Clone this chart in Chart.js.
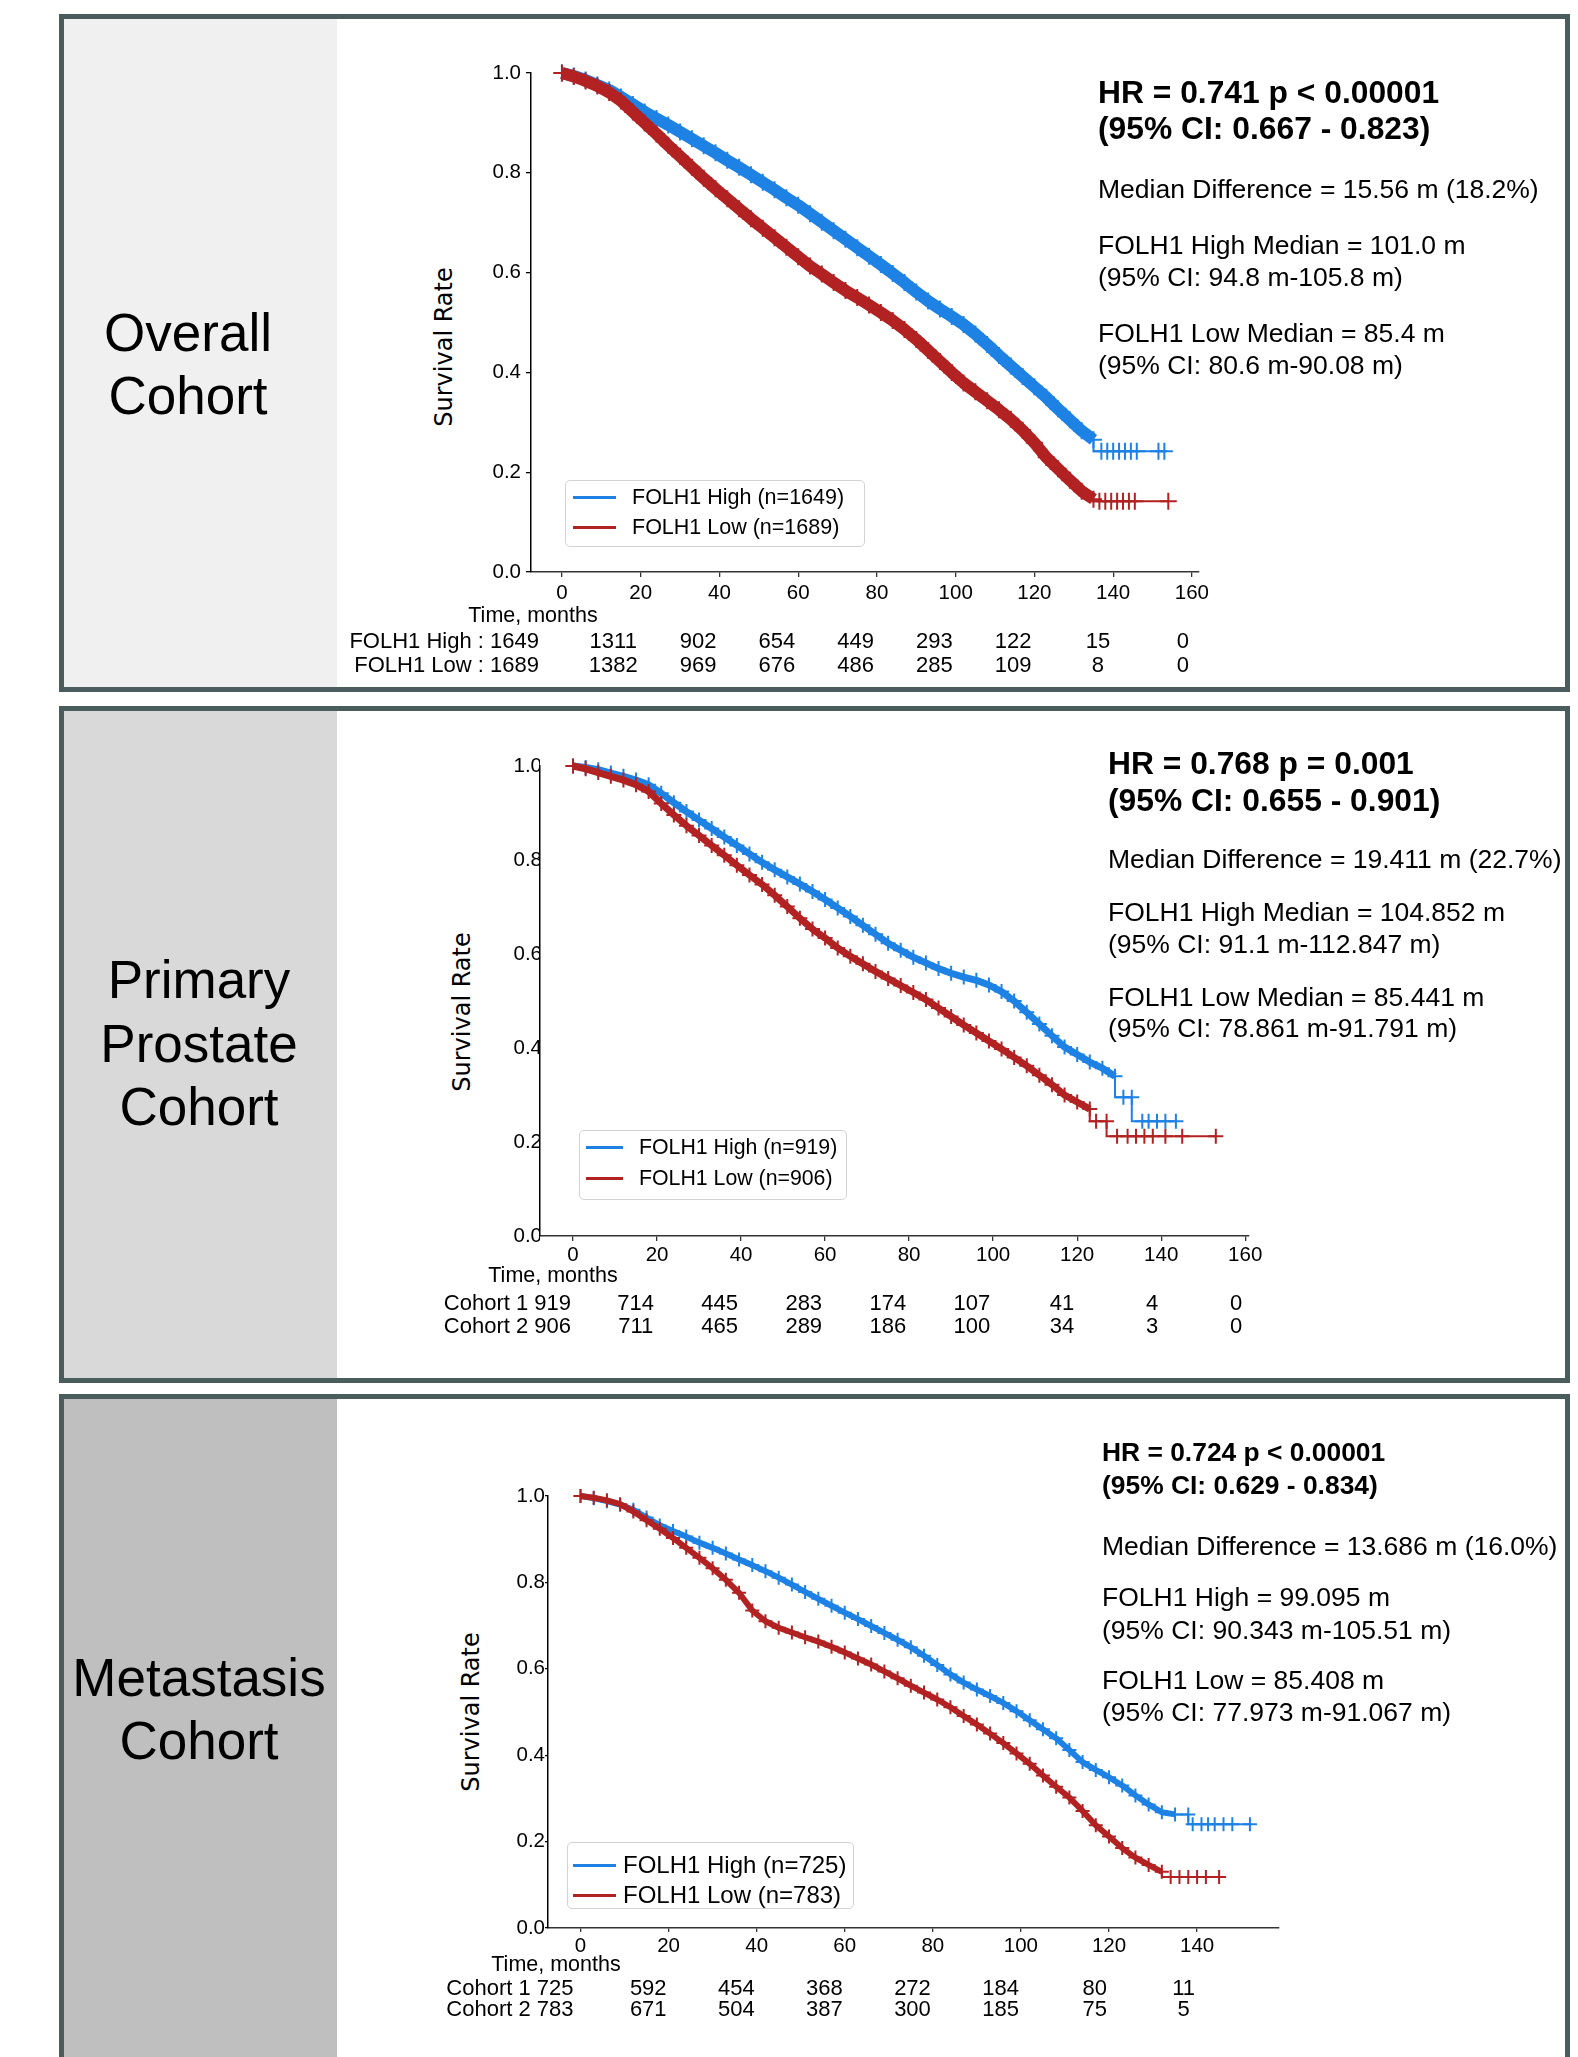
<!DOCTYPE html>
<html>
<head>
<meta charset="utf-8">
<title>FOLH1 survival by cohort</title>
<script src="https://cdn.jsdelivr.net/npm/chart.js@4.4.1/dist/chart.umd.min.js"></script>
<style>
  html, body { margin: 0; padding: 0; background: #fff; }
  body { position: relative; width: 1578px; height: 2057px; overflow: hidden; font-family: "Liberation Sans", Arial, Helvetica, sans-serif; color: #000; }
  .panel { position: absolute; left: 59px; width: 1511px; box-sizing: border-box; border: 5px solid #4a5c5c; background: #fff; }
  .side { position: absolute; left: 0; top: 0; bottom: 0; width: 273px; }
  .txt { position: absolute; white-space: nowrap; }
  .legend { position: absolute; box-sizing: border-box; border: 1.5px solid #d3d3d3; border-radius: 5px; background: rgba(255, 255, 255, .85); }
  .swatch { position: absolute; height: 3px; }
  canvas { position: absolute; }
</style>
</head>
<body>
<div class="panel" style="top:14px;height:678px"><div class="side" style="background:#f0f0f0"></div></div>
<div class="panel" style="top:706px;height:677px"><div class="side" style="background:#d9d9d9"></div></div>
<div class="panel" style="top:1394px;height:720px"><div class="side" style="background:#bfbfbf"></div></div>
<script>
const BLUE = '#1e82e4';
const RED = '#b22222';
const PAGE_W = 1578;

const yTicks = [0, 0.2, 0.4, 0.6, 0.8, 1.0];
const xTicksLong = [0, 20, 40, 60, 80, 100, 120, 140, 160];
const xTicksShort = [0, 20, 40, 60, 80, 100, 120, 140];

// Overall cohort (months, survival)
const overallHighT = [0, 3, 6, 9, 12, 15, 18, 21, 24, 27, 30, 33, 36, 39, 42, 45, 48, 51, 54, 57, 60, 63, 66, 69, 72, 75, 78, 81, 84, 87, 90, 93, 96, 99, 102, 105, 108, 111, 114, 117, 120, 123, 126, 129, 132, 135, 137, 138.5, 140, 141.5, 143, 144.5, 146, 151.5, 153];
const overallHighS = [1.000, .994, .986, .976, .966, .952, .937, .922, .909, .896, .882, .868, .854, .840, .825, .811, .796, .781, .766, .750, .735, .718, .701, .684, .667, .650, .633, .616, .598, .580, .561, .543, .527, .512, .496, .477, .456, .434, .413, .392, .371, .350, .327, .305, .283, .265, .242, .242, .242, .242, .242, .242, .242, .242, .242];
const overallLowT = [0, 3, 6, 9, 12, 15, 18, 21, 24, 27, 30, 33, 36, 39, 42, 45, 48, 51, 54, 57, 60, 63, 66, 69, 72, 75, 78, 81, 84, 87, 90, 93, 96, 99, 102, 105, 108, 111, 114, 117, 120, 123, 126, 129, 132, 135, 136.5, 138, 139.5, 141, 142.5, 144, 145.5, 154];
const overallLowS = [1.000, .993, .984, .974, .961, .944, .922, .900, .878, .855, .833, .811, .789, .768, .748, .728, .708, .689, .670, .651, .632, .613, .597, .580, .564, .550, .535, .520, .504, .486, .466, .444, .422, .400, .379, .361, .343, .325, .306, .284, .259, .230, .207, .184, .162, .146, .142, .142, .142, .142, .142, .142, .142, .142];
const overallRiskHigh = [1649, 1311, 902, 654, 449, 293, 122, 15, 0];
const overallRiskLow = [1689, 1382, 969, 676, 486, 285, 109, 8, 0];

// Primary prostate cohort
const primaryHighT = [0, 3, 6, 9, 12, 15, 18, 21, 24, 27, 30, 33, 36, 39, 42, 45, 48, 51, 54, 57, 60, 63, 66, 69, 72, 75, 78, 81, 84, 87, 90, 93, 96, 99, 102, 105, 108, 111, 114, 117, 120, 123, 126, 129, 131, 133, 135.5, 137, 139, 141, 143.5];
const primaryHighS = [1.000, .997, .992, .985, .978, .970, .960, .942, .922, .903, .885, .867, .849, .831, .813, .795, .779, .764, .749, .733, .716, .698, .680, .661, .642, .623, .608, .593, .581, .569, .559, .551, .544, .534, .520, .500, .476, .451, .426, .402, .386, .370, .357, .340, .295, .295, .244, .244, .244, .244, .244];
const primaryLowT = [0, 3, 6, 9, 12, 15, 18, 21, 24, 27, 30, 33, 36, 39, 42, 45, 48, 51, 54, 57, 60, 63, 66, 69, 72, 75, 78, 81, 84, 87, 90, 93, 96, 99, 102, 105, 108, 111, 114, 117, 120, 123, 124.5, 127, 129.5, 132, 134, 136, 138, 141, 145, 153];
const primaryLowS = [1.000, .994, .986, .978, .970, .960, .946, .920, .896, .873, .852, .831, .810, .789, .768, .748, .725, .701, .676, .653, .634, .613, .595, .579, .563, .548, .533, .518, .503, .485, .467, .449, .432, .415, .398, .380, .362, .342, .322, .300, .285, .270, .244, .244, .212, .212, .212, .212, .212, .212, .212, .212];
const primaryRiskHigh = [919, 714, 445, 283, 174, 107, 41, 4, 0];
const primaryRiskLow = [906, 711, 465, 289, 186, 100, 34, 3, 0];

// Metastasis cohort
const metaHighT = [0, 3, 6, 9, 12, 15, 18, 21, 24, 27, 30, 33, 36, 39, 42, 45, 48, 51, 54, 57, 60, 63, 66, 69, 72, 75, 78, 81, 84, 87, 90, 93, 96, 99, 102, 105, 108, 111, 114, 117, 120, 123, 126, 129, 132, 135, 138, 139, 141, 142.5, 144, 146, 148, 152];
const metaHighS = [1.000, .995, .988, .980, .968, .950, .932, .919, .906, .892, .880, .867, .853, .840, .826, .811, .795, .778, .762, .746, .730, .715, .699, .683, .667, .650, .630, .609, .587, .568, .552, .537, .521, .502, .481, .460, .439, .412, .384, .366, .349, .330, .307, .286, .268, .263, .263, .240, .240, .240, .240, .240, .240, .240];
const metaLowT = [0, 3, 6, 9, 12, 15, 18, 21, 24, 27, 30, 33, 36, 39, 42, 45, 48, 51, 54, 57, 60, 63, 66, 69, 72, 75, 78, 81, 84, 87, 90, 93, 96, 99, 102, 105, 108, 111, 114, 117, 120, 123, 126, 129, 132, 134, 136, 138, 140, 142, 145];
const metaLowS = [1.000, .996, .990, .981, .964, .944, .924, .903, .880, .857, .833, .806, .776, .735, .710, .695, .684, .673, .663, .651, .638, .624, .610, .594, .578, .561, .545, .529, .511, .491, .471, .450, .428, .404, .380, .353, .327, .302, .271, .238, .212, .185, .163, .146, .130, .118, .118, .118, .118, .118, .118];
const metaRiskHigh = [725, 592, 454, 368, 272, 184, 80, 11];
const metaRiskLow = [783, 671, 504, 387, 300, 185, 75, 5];

const panels = [
    {
        title: ['Overall', 'Cohort'],
        legend: ['FOLH1 High (n=1649)', 'FOLH1 Low (n=1689)'],
        riskLabels: ['FOLH1 High : ', 'FOLH1 Low : '],
        stats: ['HR = 0.741 p < 0.00001', '(95% CI: 0.667 - 0.823)', 'Median Difference = 15.56 m (18.2%)', 'FOLH1 High Median = 101.0 m', '(95% CI: 94.8 m-105.8 m)', 'FOLH1 Low Median = 85.4 m', '(95% CI: 80.6 m-90.08 m)'],
        high: [overallHighT, overallHighS], low: [overallLowT, overallLowS],
        risk: [overallRiskHigh, overallRiskLow], xTicks: xTicksLong,
        layout: {
            titleX: 188, titleY: [333, 396],
            axis: { left: 531, top: 73, bottom: 572, right: 1199, xMin: -7.86, xMax: 161.8 },
            yTick: [5, 5], xTick: [5, 4], mark: 8.5, band: 12, bandEnd: [135, 135],
            ylabel: [444, 347], xlabel: [533, 615],
            riskRows: [641, 665], riskOff0: -23, riskOff: -3,
            legendBox: [565, 480, 300, 67], legendLine: [573, 616], legendRows: [497, 527.5], legendText: 632, legendSize: 21.5,
            statsX: 1098, statsRows: [92, 128.5, 189, 245, 277, 333, 365], boldSize: 31.8, textSize: 26.5
        }
    },
    {
        title: ['Primary', 'Prostate', 'Cohort'],
        legend: ['FOLH1 High (n=919)', 'FOLH1 Low (n=906)'],
        riskLabels: ['Cohort 1 ', 'Cohort 2 '],
        stats: ['HR = 0.768 p = 0.001', '(95% CI: 0.655 - 0.901)', 'Median Difference = 19.411 m (22.7%)', 'FOLH1 High Median = 104.852 m', '(95% CI: 91.1 m-112.847 m)', 'FOLH1 Low Median = 85.441 m', '(95% CI: 78.861 m-91.791 m)'],
        high: [primaryHighT, primaryHighS], low: [primaryLowT, primaryLowS],
        risk: [primaryRiskHigh, primaryRiskLow], xTicks: xTicksLong,
        layout: {
            titleX: 199, titleY: [980, 1044, 1107],
            axis: { left: 540, top: 766, bottom: 1236, right: 1249, xMin: -7.86, xMax: 160.9 },
            yTick: [0, -2], xTick: [5, 2], mark: 7.5, band: 7, bandEnd: [123, 129],
            ylabel: [462, 1012], xlabel: [553, 1275],
            riskRows: [1302.5, 1326], riskOff0: -2, riskOff: -3,
            legendBox: [579, 1130, 268, 70], legendLine: [586, 623], legendRows: [1147.3, 1178.7], legendText: 639, legendSize: 21.3,
            statsX: 1108, statsRows: [763.5, 800, 859, 912, 944, 997, 1028], boldSize: 31.8, textSize: 26.5
        }
    },
    {
        title: ['Metastasis', 'Cohort'],
        legend: ['FOLH1 High (n=725)', 'FOLH1 Low (n=783)'],
        riskLabels: ['Cohort 1 ', 'Cohort 2 '],
        stats: ['HR = 0.724 p < 0.00001', '(95% CI: 0.629 - 0.834)', 'Median Difference = 13.686 m (16.0%)', 'FOLH1 High = 99.095 m', '(95% CI: 90.343 m-105.51 m)', 'FOLH1 Low = 85.408 m', '(95% CI: 77.973 m-91.067 m)'],
        high: [metaHighT, metaHighS], low: [metaLowT, metaLowS],
        risk: [metaRiskHigh, metaRiskLow], xTicks: xTicksShort,
        layout: {
            titleX: 199, titleY: [1678, 1741],
            axis: { left: 548, top: 1496, bottom: 1928, right: 1279, xMin: -7.38, xMax: 158.6 },
            yTick: [3, 0], xTick: [4, 2.5], mark: 7, band: 6, bandEnd: [132, 135],
            ylabel: [471, 1712], xlabel: [556, 1964],
            riskRows: [1988.6, 2009.5], riskOff0: -7, riskOff: -2,
            legendBox: [567, 1842, 287, 67], legendLine: [573, 616], legendRows: [1865, 1895], legendText: 623, legendSize: 24,
            statsX: 1102, statsRows: [1452, 1485, 1546.6, 1597.7, 1630.5, 1680, 1711.8], boldSize: 26.4, textSize: 26.5
        }
    }
];

const put = (text, x, cy, size, opts = {}) => {
    const el = document.createElement('div');
    el.className = 'txt';
    el.textContent = text;
    el.style.fontSize = size + 'px';
    el.style.lineHeight = (size * 1.15) + 'px';
    el.style.top = (cy - size * 0.575) + 'px';
    if (opts.bold) {
        el.style.fontWeight = 'bold';
    }
    if (opts.align === 'center') {
        el.style.left = x + 'px';
        el.style.transform = 'translateX(-50%)';
    } else if (opts.align === 'right') {
        el.style.right = (PAGE_W - x) + 'px';
    } else {
        el.style.left = x + 'px';
    }
    document.body.appendChild(el);
    return el;
};

const tickFont = { family: '"Liberation Sans", Arial, sans-serif', size: 20.5 };
const PAD_L = 90, PAD_T = 30, PAD_R = 40, PAD_B = 50;
const CLEAR = 'rgba(0,0,0,0)';

const points = (pair) => pair[0].map((t, i) => ({ x: t, y: pair[1][i] }));

// KM step line with censor crosses; the thin step line only shows in the sparse tail
const curve = (pair, color, L, end) => ({
    data: points(pair),
    borderColor: color,
    backgroundColor: color,
    borderWidth: 2,
    stepped: 'after',
    clip: false,
    segment: {
        borderColor: (ctx) => (ctx.p1.parsed.x <= end ? CLEAR : color)
    },
    pointStyle: 'cross',
    pointRadius: L.mark,
    pointHoverRadius: L.mark,
    pointBorderWidth: 2,
    pointBorderColor: color
});

// where censoring is dense the crosses merge into a ribbon
const ribbon = (pair, color, L, end) => ({
    data: points(pair),
    borderColor: color,
    borderWidth: L.band,
    borderJoinStyle: 'round',
    clip: false,
    pointRadius: 0,
    pointHoverRadius: 0,
    segment: {
        borderColor: (ctx) => (ctx.p1.parsed.x <= end ? color : CLEAR)
    }
});

panels.forEach((p) => {
    const L = p.layout;
    const a = L.axis;

    // left column title
    p.title.forEach((line, i) => put(line, L.titleX, L.titleY[i], 53, { align: 'center' }));

    // y axis title
    const yl = document.createElement('div');
    yl.className = 'txt';
    yl.textContent = 'Survival Rate';
    yl.style.cssText += `left:${L.ylabel[0]}px;top:${L.ylabel[1]}px;font-family:"DejaVu Sans",sans-serif;font-size:24px;line-height:24px;transform:translate(-50%,-50%) rotate(-90deg);`;
    document.body.appendChild(yl);

    // chart canvas
    const canvas = document.createElement('canvas');
    const w = a.right - a.left + PAD_L + PAD_R;
    const h = a.bottom - a.top + PAD_T + PAD_B;
    const cLeft = a.left - PAD_L;
    const cTop = a.top - PAD_T;
    canvas.width = w;
    canvas.height = h;
    canvas.style.left = cLeft + 'px';
    canvas.style.top = cTop + 'px';
    canvas.style.width = w + 'px';
    canvas.style.height = h + 'px';
    document.body.appendChild(canvas);

    const chart = new Chart(canvas, {
        type: 'line',
        data: {
            datasets: [
                curve(p.low, RED, L, L.bandEnd[0]),
                ribbon(p.low, RED, L, L.bandEnd[0]),
                curve(p.high, BLUE, L, L.bandEnd[1]),
                ribbon(p.high, BLUE, L, L.bandEnd[1])
            ]
        },
        options: {
            responsive: false,
            devicePixelRatio: 1,
            animation: false,
            events: [],
            layout: { autoPadding: false, padding: { left: 0, top: PAD_T, right: PAD_R, bottom: 0 } },
            plugins: { legend: { display: false }, tooltip: { enabled: false } },
            scales: {
                x: {
                    type: 'linear',
                    min: a.xMin,
                    max: a.xMax,
                    afterBuildTicks: (s) => { s.ticks = p.xTicks.map((v) => ({ value: v })); },
                    afterFit: (s) => { s.height = PAD_B; },
                    grid: { drawOnChartArea: false, drawTicks: true, tickLength: L.xTick[0], color: '#333', lineWidth: 1.3 },
                    border: { color: '#333', width: 1.5 },
                    ticks: { padding: L.xTick[1], color: '#000', font: tickFont, autoSkip: false, maxRotation: 0 }
                },
                y: {
                    type: 'linear',
                    min: 0,
                    max: 1,
                    afterBuildTicks: (s) => { s.ticks = yTicks.map((v) => ({ value: v })); },
                    afterFit: (s) => { s.width = PAD_L; },
                    grid: { drawOnChartArea: false, drawTicks: L.yTick[0] > 0, tickLength: L.yTick[0], color: '#000', lineWidth: 1.3 },
                    border: { color: '#000', width: 1.5 },
                    ticks: { padding: L.yTick[1], color: '#000', font: tickFont, callback: (v) => v.toFixed(1) }
                }
            }
        }
    });

    // legend inside the plot
    const box = document.createElement('div');
    box.className = 'legend';
    box.style.cssText += `left:${L.legendBox[0]}px;top:${L.legendBox[1]}px;width:${L.legendBox[2]}px;height:${L.legendBox[3]}px;`;
    document.body.appendChild(box);
    [BLUE, RED].forEach((color, i) => {
        const sw = document.createElement('div');
        sw.className = 'swatch';
        sw.style.cssText += `left:${L.legendLine[0]}px;width:${L.legendLine[1] - L.legendLine[0]}px;top:${L.legendRows[i] - 1.5}px;background:${color};`;
        document.body.appendChild(sw);
        put(p.legend[i], L.legendText, L.legendRows[i], L.legendSize);
    });

    // stats block
    p.stats.forEach((line, i) => put(line, L.statsX, L.statsRows[i], i < 2 ? L.boldSize : L.textSize, { bold: i < 2 }));

    // x axis title and number-at-risk table
    put('Time, months', L.xlabel[0], L.xlabel[1], 21.5, { align: 'center' });
    const xs = chart.scales.x;
    const gap = L.riskRows[1] - L.riskRows[0];
    p.xTicks.forEach((t, i) => {
        const px = cLeft + xs.getPixelForValue(t);
        const col = document.createElement('div');
        col.className = 'txt';
        col.style.fontSize = '22px';
        col.style.lineHeight = gap + 'px';
        col.style.top = (L.riskRows[0] - gap / 2) + 'px';
        if (i === 0) {
            col.style.textAlign = 'right';
            col.style.right = (PAGE_W - (px + L.riskOff0)) + 'px';
            col.innerHTML = `${p.riskLabels[0]}${p.risk[0][0]}<br>${p.riskLabels[1]}${p.risk[1][0]}`;
        } else {
            col.style.textAlign = 'center';
            col.style.right = (PAGE_W - (px + L.riskOff)) + 'px';
            col.innerHTML = `${p.risk[0][i]}<br>${p.risk[1][i]}`;
        }
        document.body.appendChild(col);
    });
});
</script>
</body>
</html>
